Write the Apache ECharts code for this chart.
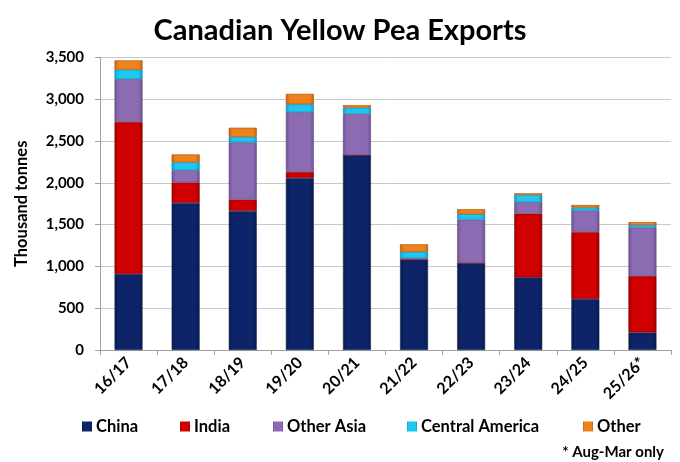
<!DOCTYPE html>
<html>
<head>
<meta charset="utf-8">
<script src="https://cdn.jsdelivr.net/npm/echarts@6/dist/echarts.min.js"></script>
<style>html,body{margin:0;padding:0;background:#fff;}#c{width:680px;height:462px;}</style>
</head>
<body>
<div id="c"></div>
<script>
const categories = ['16/17','17/18','18/19','19/20','20/21','21/22','22/23','23/24','24/25','25/26*'];
const china      = [910, 1760, 1665, 2060, 2330, 1080, 1040, 870, 610, 210];
const india      = [1820, 245, 135, 70, 0, 0, 0, 760, 800, 675];
const otherAsia  = [510, 145, 685, 715, 495, 20, 520, 140, 260, 580];
const centralAm  = [115, 95, 65, 95, 75, 75, 65, 85, 35, 30];
const other      = [110, 95, 110, 125, 30, 90, 60, 20, 30, 35];
const yTicks = [0, 500, 1000, 1500, 2000, 2500, 3000, 3500];

const FONT = 'Lato';
function grad(c1, c2) {
  return new echarts.graphic.LinearGradient(0, 0, 1, 0, [
    {offset: 0, color: c2}, {offset: 0.15, color: c1}, {offset: 0.85, color: c1}, {offset: 1, color: c2}
  ]);
}
const seriesDefs = [
  {name: 'China', data: china, c: '#0d2468', d: '#081848', b: '#1a2f60'},
  {name: 'India', data: india, c: '#d00000', d: '#a00000', b: '#800000'},
  {name: 'Other Asia', data: otherAsia, c: '#8b6cb2', d: '#6f5494', b: '#5f4a80'},
  {name: 'Central America', data: centralAm, c: '#1ec6f2', d: '#10a0cc', b: '#0a80a8'},
  {name: 'Other', data: other, c: '#f0821e', d: '#c86410', b: '#a05008'}
];
const legendLefts = [77, 175, 268, 402, 578];

const chart = echarts.init(document.getElementById('c'));
chart.setOption({
  animation: false,
  backgroundColor: '#fff',
  title: {
    text: 'Canadian Yellow Pea Exports',
    left: 'center', top: 11,
    textStyle: {fontFamily: FONT, fontSize: 29, fontWeight: 'bold', color: '#000'}
  },
  graphic: [{
    type: 'text', right: 16, top: 445,
    style: {text: '* Aug-Mar only', fontFamily: FONT, fontSize: 15, fontWeight: 'bold', fill: '#000'}
  }],
  legend: seriesDefs.map((s, i) => ({
    data: [s.name], left: legendLefts[i], top: 413,
    itemWidth: 10, itemHeight: 10, itemGap: 5,
    icon: 'rect',
    itemStyle: {borderWidth: 0},
    textStyle: {fontFamily: FONT, fontSize: 16.5, fontWeight: 'bold', color: '#000', padding: [0,0,0,-1]}
  })),
  grid: {left: 100, right: 9, top: 57.5, bottom: 112},
  xAxis: {
    type: 'category', data: categories,
    axisLine: {lineStyle: {color: '#a0a0a0'}},
    axisTick: {show: true, length: 5, lineStyle: {color: '#a0a0a0'}},
    axisLabel: {rotate: 45, interval: 0, margin: 10, fontFamily: FONT, fontSize: 16, fontWeight: 'bold', color: '#000'}
  },
  yAxis: {
    type: 'value', min: yTicks[0], max: yTicks[yTicks.length - 1], interval: 500,
    name: 'Thousand tonnes', nameLocation: 'middle', nameGap: 70, nameRotate: 90,
    nameTextStyle: {fontFamily: FONT, fontSize: 16.5, fontWeight: 'bold', color: '#000'},
    axisLine: {show: true, lineStyle: {color: '#a0a0a0'}},
    axisTick: {show: true, length: 5, lineStyle: {color: '#a0a0a0'}},
    splitLine: {lineStyle: {color: '#c8c8c8'}},
    axisLabel: {margin: 16, fontFamily: FONT, fontSize: 15, fontWeight: 'bold', color: '#000',
      formatter: v => v.toLocaleString('en-US')}
  },
  series: seriesDefs.map(s => ({
    name: s.name, type: 'bar', stack: 'total', data: s.data, barWidth: 28,
    itemStyle: {color: grad(s.c, s.d), borderColor: s.b, borderWidth: 0.6},
    emphasis: {disabled: true}
  }))
});
</script>
</body>
</html>
